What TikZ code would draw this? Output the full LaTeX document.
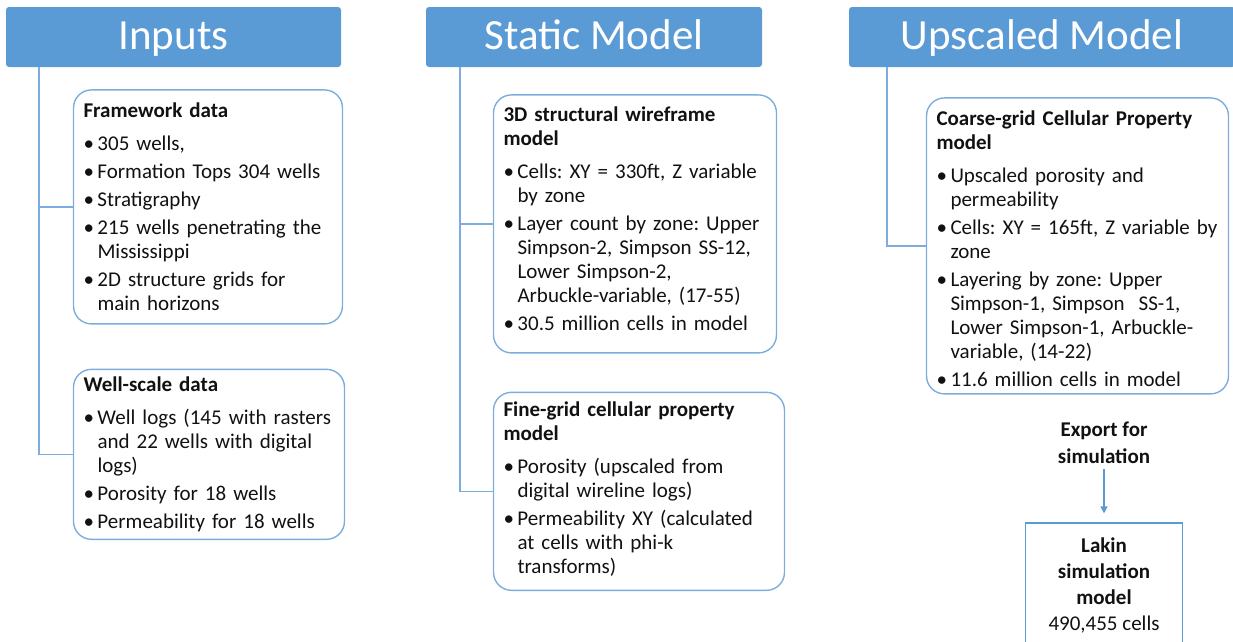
\documentclass[tikz,border=0pt]{standalone}
\usepackage{fontspec}
\setmainfont{Carlito}
\usepackage{tikz}
\usetikzlibrary{arrows.meta, positioning, calc}

\definecolor{headblue}{HTML}{5B9BD5}
\definecolor{lineblue}{HTML}{7DADDE}
\definecolor{inktext}{HTML}{111111}

% bullet item, wrapped lines hang under the text (\\ keeps the paragraph)
\newcommand{\itm}[1]{\par\vspace{4pt}\hangindent=14pt\hangafter=1
  \noindent\makebox[14pt][l]{\textbullet}{\let\\\newline #1}\par}
\newcommand{\boxtitle}[1]{\noindent{\let\\\newline\bfseries #1}\par\vspace{5pt}}

\begin{document}
\frenchspacing
\begin{tikzpicture}[
  x=1pt, y=1pt,
  head/.style ={fill=headblue, rounded corners=3pt, text=white,
                minimum height=60pt, text height=30pt, text depth=6pt,
                font=\fontsize{43}{50}\selectfont},
  sub/.style  ={draw=lineblue, line width=1.4pt, rounded corners=18pt,
                align=left, inner xsep=10pt, text=inktext,
                font=\fontsize{21}{24}\selectfont\setlength{\parskip}{0pt}},
  lbl/.style  ={align=center, text=inktext, font=\fontsize{21}{27}\selectfont\bfseries},
  sim/.style  ={draw=headblue, line width=1.4pt, align=center, text=inktext,
                minimum width=157pt, minimum height=124pt,
                font=\fontsize{21}{26}\selectfont},
  link/.style ={draw=lineblue, line width=1.4pt},
  arr/.style  ={-{Triangle[length=7pt, width=7pt]}, draw=headblue, line width=1.2pt},
]
\useasboundingbox (0,0) rectangle (1233,-641);
\clip (0,0) rectangle (1233,-641);

% ================= column 1: inputs =================
\node[head, minimum width=335pt] (in) at (173.5,-37) {Inputs};

\node[sub, text width=249pt, minimum height=234pt,
      below=22pt of in.south west, anchor=north west, xshift=67pt] (fw) {%
  \boxtitle{Framework data}
  \itm{305 wells,}
  \itm{Formation Tops 304 wells}
  \itm{Stratigraphy}
  \itm{215 wells penetrating the\\Mississippi}
  \itm{2D structure grids for\\main horizons}};

\node[sub, text width=251pt, minimum height=170pt,
      below=44pt of fw.south west, anchor=north west] (ws) {%
  \boxtitle{Well-scale data}
  \itm{Well logs (145 with rasters\\and 22 wells with digital\\logs)}
  \itm{Porosity for 18 wells}
  \itm{Permeability for 18 wells}};

\draw[link] ($(in.south west)+(33,0)$) |- (fw.west);
\draw[link] ($(in.south west)+(33,0)$) |- (ws.west);

% ================= column 2: static model =================
\node[head, minimum width=336pt] (stat) at (594,-37) {Static Model};

\node[sub, text width=263pt, minimum height=258pt,
      below=27pt of stat.south west, anchor=north west, xshift=67pt] (wire) {%
  \boxtitle{3D structural wireframe\\model}
  \itm{Cells: XY = 330ft, Z variable\\by zone}
  \itm{Layer count by zone: Upper\\Simpson-2, Simpson SS-12,\\Lower Simpson-2,\\Arbuckle-variable, (17-55)}
  \itm{30.5 million cells in model}
  \vspace{10pt}};

\node[sub, text width=271pt, minimum height=198pt,
      below=38pt of wire.south west, anchor=north west] (fine) {%
  \boxtitle{Fine-grid cellular property\\model}
  \itm{Porosity (upscaled from\\digital wireline logs)}
  \itm{Permeability XY (calculated\\at cells with phi-k\\transforms)}
  \vspace{4pt}};

\draw[link] ($(stat.south west)+(34,0)$) |- (wire.west);
\draw[link] ($(stat.south west)+(34,0)$) |- (fine.west);

% ================= column 3: upscaled model =================
\node[head, minimum width=386pt] (ups) at (1042,-37) {Upscaled Model};

\node[sub, text width=282pt, minimum height=296pt,
      below=30pt of ups.south west, anchor=north west, xshift=77pt] (coarse) {%
  \boxtitle{Coarse-grid Cellular Property\\model}
  \itm{Upscaled porosity and\\permeability}
  \itm{Cells: XY = 165ft, Z variable by\\zone}
  \itm{Layering by zone: Upper\\Simpson-1, Simpson\ \ SS-1,\\Lower Simpson-1, Arbuckle-\\variable, (14-22)}
  \itm{11.6 million cells in model}
  \vspace{-6pt}};

\draw[link] ($(ups.south west)+(38,0)$) |- (coarse.west);

% export to the simulation grid
\node[lbl] (exp) at (1104,-443) {Export for\\simulation};
\node[sim, below=55pt of exp.south, anchor=north] (lakin)
  {\textbf{Lakin}\\\textbf{simulation}\\\textbf{model}\\490,455 cells};
\draw[arr, shorten <=2pt, shorten >=9pt] (exp.south) -- (lakin.north);

\end{tikzpicture}
\end{document}
